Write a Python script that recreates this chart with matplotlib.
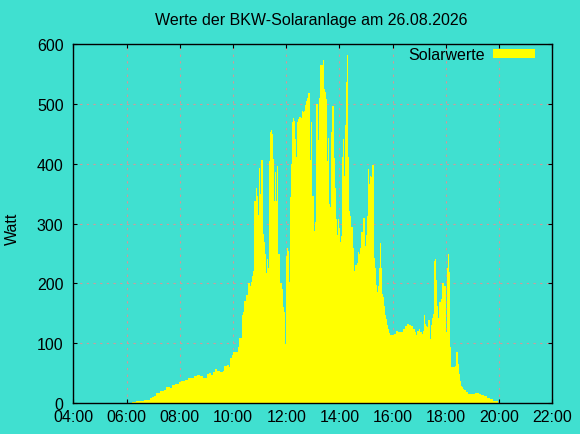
"""
Tagesverlauf der BKW-Solaranlage als gnuplot-artiges Flaechendiagramm.
"""
import matplotlib
matplotlib.use("Agg")
import matplotlib.pyplot as plt
from matplotlib.patches import Patch


TITLE = "Werte der BKW-Solaranlage am 26.08.2026"
YLABEL = "Watt"
SERIES = "Solarwerte"

# Messzeitpunkte (Wert gilt bis zum naechsten Zeitpunkt) und Leistung in Watt
times = [
    "06:12", "06:21", "06:34", "06:39", "06:53", "06:57", "07:02", "07:06", "07:15", "07:24",
    "07:28", "07:38", "07:42", "07:49", "07:58", "08:03", "08:12", "08:18", "08:23", "08:32",
    "08:39", "08:45", "08:52", "09:01", "09:06", "09:10", "09:15", "09:19", "09:24", "09:31",
    "09:37", "09:40", "09:46", "09:51", "09:53", "09:57", "10:00", "10:06", "10:11", "10:13",
    "10:20", "10:22", "10:24", "10:29", "10:34", "10:38", "10:40", "10:43", "10:45", "10:47",
    "10:52", "10:54", "10:56", "10:58", "11:01", "11:03", "11:07", "11:10", "11:12", "11:14",
    "11:16", "11:19", "11:21", "11:23", "11:25", "11:28", "11:30", "11:32", "11:34", "11:37",
    "11:39", "11:41", "11:46", "11:50", "11:52", "11:55", "11:57", "11:59", "12:01", "12:04",
    "12:06", "12:08", "12:10", "12:13", "12:15", "12:17", "12:19", "12:22", "12:24", "12:26",
    "12:28", "12:33", "12:35", "12:37", "12:40", "12:42", "12:44", "12:46", "12:49", "12:53",
    "12:55", "12:58", "13:02", "13:04", "13:07", "13:11", "13:14", "13:16", "13:22", "13:25",
    "13:27", "13:29", "13:32", "13:34", "13:36", "13:38", "13:41", "13:43", "13:47", "13:50",
    "13:52", "13:54", "13:56", "13:59", "14:01", "14:03", "14:05", "14:08", "14:10", "14:12",
    "14:14", "14:17", "14:19", "14:21", "14:23", "14:26", "14:30", "14:32", "14:35", "14:37",
    "14:39", "14:41", "14:44", "14:46", "14:48", "14:53", "14:57", "14:59", "15:02", "15:04",
    "15:06", "15:08", "15:11", "15:13", "15:17", "15:20", "15:22", "15:24", "15:26", "15:29",
    "15:31", "15:33", "15:35", "15:38", "15:40", "15:42", "15:45", "15:47", "15:49", "15:51",
    "15:54", "16:03", "16:07", "16:12", "16:23", "16:27", "16:32", "16:36", "16:41", "16:45",
    "16:50", "16:52", "16:54", "16:59", "17:01", "17:06", "17:08", "17:10", "17:12", "17:15",
    "17:17", "17:19", "17:24", "17:26", "17:28", "17:30", "17:33", "17:35", "17:37", "17:39",
    "17:42", "17:44", "17:48", "17:51", "17:55", "18:00", "18:02", "18:04", "18:06", "18:09",
    "18:11", "18:16", "18:20", "18:22", "18:24", "18:27", "18:29", "18:31", "18:34", "18:36",
    "18:38", "18:40", "18:45", "18:51", "19:05", "19:14", "19:19", "19:25", "19:32", "19:39",
    "19:46", "19:50", "19:57",
]
watts = [
    2, 3, 3, 5, 8, 10, 12, 16, 20, 21,
    26, 25, 30, 32, 35, 36, 38, 41, 42, 45,
    47, 45, 42, 48, 51, 47, 52, 57, 53, 52,
    54, 62, 63, 61, 75, 81, 85, 86, 94, 108,
    148, 152, 171, 181, 201, 196, 202, 212, 221, 338,
    359, 347, 314, 393, 350, 407, 283, 269, 249, 217,
    241, 225, 405, 453, 456, 450, 408, 338, 386, 338,
    397, 249, 200, 191, 160, 152, 99, 246, 260, 255,
    203, 344, 400, 470, 476, 472, 441, 412, 470, 475,
    479, 477, 488, 486, 489, 498, 505, 510, 518, 406,
    470, 347, 288, 302, 500, 440, 510, 565, 574, 525,
    520, 508, 405, 444, 333, 328, 454, 496, 409, 359,
    308, 281, 307, 292, 270, 279, 411, 441, 380, 465,
    537, 582, 411, 321, 312, 295, 260, 221, 231, 230,
    235, 252, 250, 259, 286, 310, 263, 281, 313, 392,
    366, 380, 378, 398, 242, 225, 197, 185, 195, 225,
    268, 225, 182, 177, 162, 147, 140, 130, 123, 117,
    114, 116, 120, 118, 123, 128, 132, 130, 128, 123,
    119, 114, 121, 124, 119, 115, 121, 147, 132, 129,
    127, 139, 107, 130, 142, 149, 238, 241, 206, 163,
    142, 169, 174, 201, 196, 119, 225, 249, 219, 93,
    60, 61, 62, 112, 85, 65, 48, 37, 29, 26,
    23, 21, 19, 15, 16, 15, 13, 11, 9, 7,
    4, 3, 0,
]

xticks = [4, 6, 8, 10, 12, 14, 16, 18, 20, 22]
xticklabels = ["04:00", "06:00", "08:00", "10:00", "12:00",
               "14:00", "16:00", "18:00", "20:00", "22:00"]
yticks = [0, 100, 200, 300, 400, 500, 600]

BG = "#40e0d0"
FILL = "#ffff00"
GRID = "#d09a9a"


def to_hours(hhmm):
    h, m = hhmm.split(":")
    return int(h) + int(m) / 60.0


def main(out_path="out.png"):
    plt.rcParams["font.family"] = ["Liberation Sans", "DejaVu Sans"]
    plt.rcParams["font.size"] = 11.5

    fig = plt.figure(figsize=(5.8, 4.35), dpi=100, facecolor=BG)
    ax = fig.add_axes([73.3 / 580, 1 - 404 / 435, 479 / 580, 358.7 / 435])
    ax.set_facecolor(BG)

    hours = [to_hours(t) for t in times]
    ax.fill_between(hours, watts, step="post", color=FILL, linewidth=0,
                    antialiased=False)

    ax.set_xlim(4, 22)
    ax.set_ylim(0, 600)
    ax.set_xticks(xticks)
    ax.set_xticklabels(xticklabels)
    ax.set_yticks(yticks)

    ax.set_axisbelow(True)
    ax.grid(True, color=GRID, linestyle=(0, (2, 4)), linewidth=0.8)
    ax.tick_params(direction="in", length=3, width=0.8, color="black",
                   top=True, right=True, labelsize=11.5)
    ax.tick_params(axis="x", pad=4)
    ax.tick_params(axis="y", pad=7)
    for sp in ax.spines.values():
        sp.set_linewidth(1.0)
        sp.set_color("black")

    fig.text(311.5 / 580, 1 - 21 / 435, TITLE, ha="center", va="center",
             fontsize=11.5)
    fig.text(12 / 580, 1 - 229 / 435, YLABEL, ha="center", va="center",
             rotation=90, fontsize=11.5)

    # Legende wie bei gnuplot: Text links, Farbfeld rechts, ohne Rahmen
    ax.legend(handles=[Patch(facecolor=FILL, edgecolor="none", label=SERIES)],
              loc="upper right", bbox_to_anchor=(0.977, 1.0095),
              borderaxespad=0, frameon=False, markerfirst=False,
              handlelength=2.6, handleheight=0.45, handletextpad=0.55,
              fontsize=11.5)

    fig.savefig(out_path, dpi=100, facecolor=BG)


if __name__ == "__main__":
    main()
